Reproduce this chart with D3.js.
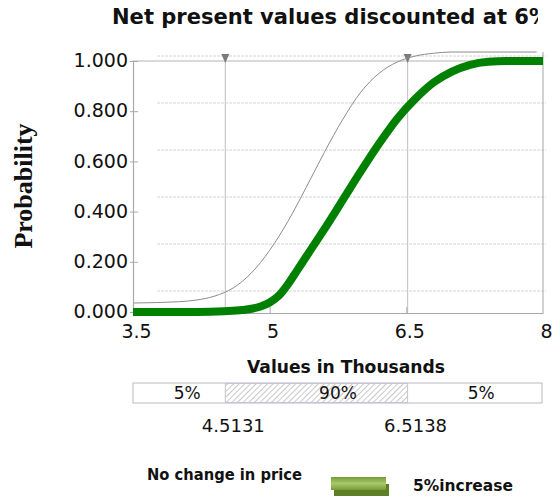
<!DOCTYPE html>
<html>
<head>
<meta charset="utf-8">
<script src="https://cdn.jsdelivr.net/npm/d3@7"></script>
<style>
  body { margin: 0; background: #fff; }
  svg { display: block; }
</style>
</head>
<body>
<div id="chart"></div>
<script>
// values
var xTicks = [3.5, 5, 6.5, 8];
var yTicks = [0, 0.2, 0.4, 0.6, 0.8, 1.0];
var seriesNames = ["No change in price", "5%increase"];

var noChangeX = [3.5, 4.0, 4.2, 4.4, 4.6, 4.8, 5.0, 5.2, 5.4, 5.6, 5.8, 6.0, 6.2, 6.4, 6.6, 6.8, 7.0, 7.93];
var noChangeP = [0.0, 0.005, 0.012, 0.028, 0.06, 0.12, 0.21, 0.325, 0.46, 0.6, 0.73, 0.84, 0.915, 0.96, 0.984, 0.995, 1.0, 1.0];

var increaseX = [3.5, 4.2, 4.5, 4.7, 4.9, 5.0, 5.1, 5.2, 5.3, 5.4, 5.6, 5.8, 6.0, 6.2, 6.4, 6.6, 6.8, 7.0, 7.2, 7.4, 7.6, 8.0];
var increaseP = [0.0, 0.0, 0.003, 0.008, 0.022, 0.038, 0.065, 0.11, 0.165, 0.22, 0.33, 0.445, 0.56, 0.67, 0.77, 0.85, 0.915, 0.958, 0.985, 0.997, 1.0, 1.0];

var bandCuts = [4.5131, 6.5138];
var bandLabels = ["5%", "90%", "5%"];

var W = 553, H = 496;

var svg = d3.select("#chart").append("svg")
    .attr("width", W)
    .attr("height", H);

svg.append("rect").attr("width", W).attr("height", H).attr("fill", "#fff");

var defs = svg.append("defs");

var x = d3.scaleLinear().domain([3.5, 8]).range([133, 543]);
var y = d3.scaleLinear().domain([0, 1]).range([312, 61]);
// back wall (depth) and the rear series are drawn a little higher
var yBack = d3.scaleLinear().domain([0, 1]).range([291, 56]);
var yThin = d3.scaleLinear().domain([0, 1]).range([303, 52]);

// title, clipped on the right like the original
defs.append("clipPath").attr("id", "titleClip")
    .append("rect").attr("x", 0).attr("y", 0).attr("width", 538).attr("height", 40);

svg.append("text")
    .attr("clip-path", "url(#titleClip)")
    .attr("x", 112)
    .attr("y", 24)
    .attr("textLength", 438)
    .attr("lengthAdjust", "spacingAndGlyphs")
    .style("font-family", "DejaVu Sans")
    .style("font-weight", "bold")
    .style("font-size", "22px")
    .attr("fill", "#111")
    .text("Net present values discounted at 6%");

// back wall grid lines
svg.append("g").selectAll("line")
    .data(yTicks)
    .enter().append("line")
    .attr("x1", 157).attr("x2", 546)
    .attr("y1", function(d) { return yBack(d); })
    .attr("y2", function(d) { return yBack(d); })
    .attr("stroke", "#d4d4d4")
    .attr("stroke-width", 1)
    .attr("stroke-dasharray", "3,1");

// plot frame
var frame = svg.append("g").attr("stroke", "#b4b4b4").attr("stroke-width", 1.2).attr("fill", "none");
frame.append("line").attr("x1", x(3.5)).attr("x2", x(8)).attr("y1", y(1)).attr("y2", y(1));
frame.append("line").attr("x1", x(8)).attr("x2", x(8)).attr("y1", 52).attr("y2", y(0) + 1);

// percentile markers
var markers = svg.append("g");
markers.selectAll("line")
    .data(bandCuts)
    .enter().append("line")
    .attr("x1", function(d) { return x(d); })
    .attr("x2", function(d) { return x(d); })
    .attr("y1", 55).attr("y2", y(0) + 1)
    .attr("stroke", "#c8c8c8")
    .attr("stroke-width", 1.2);
markers.selectAll("path")
    .data(bandCuts)
    .enter().append("path")
    .attr("d", function(d) {
        var cx = x(d);
        return "M" + (cx - 4) + ",54L" + (cx + 4) + ",54L" + cx + ",63Z";
    })
    .attr("fill", "#7a7a7a");

// rear series: thin line
var thinLine = d3.line()
    .x(function(d) { return x(d[0]); })
    .y(function(d) { return yThin(d[1]); })
    .curve(d3.curveMonotoneX);

svg.append("path")
    .datum(d3.zip(noChangeX, noChangeP))
    .attr("d", thinLine)
    .attr("fill", "none")
    .attr("stroke", "#8c8c8c")
    .attr("stroke-width", 1);

// y axis
var yAxis = d3.axisLeft(y)
    .tickValues(yTicks)
    .tickFormat(d3.format(".3f"))
    .tickSize(0)
    .tickPadding(5);

var gy = svg.append("g")
    .attr("transform", "translate(" + x(3.5) + ",0)")
    .call(yAxis);
gy.select(".domain").attr("stroke", "#a8a8a8").attr("stroke-width", 1.2);
gy.selectAll(".tick text")
    .attr("dy", "0.3em")
    .attr("fill", "#111")
    .style("font-family", "DejaVu Sans")
    .style("font-size", "19px");
gy.selectAll(".tick").append("line")
    .attr("x1", -3).attr("x2", 5)
    .attr("stroke", "#a8a8a8");

// x axis
var xAxis = d3.axisBottom(x)
    .tickValues(xTicks)
    .tickFormat(d3.format("~g"))
    .tickSize(0)
    .tickPadding(8);

var gx = svg.append("g")
    .attr("transform", "translate(0," + (y(0) + 1) + ")")
    .call(xAxis);
gx.select(".domain").attr("stroke", "#a8a8a8").attr("stroke-width", 1.2);
gx.selectAll(".tick text")
    .attr("dx", "3")
    .attr("dy", "0.9em")
    .attr("fill", "#111")
    .style("font-family", "DejaVu Sans")
    .style("font-size", "19px");
gx.selectAll(".tick")
    .filter(function(d) { return d > 3.5 && d < 8; })
    .append("line")
    .attr("y1", 0).attr("y2", -6)
    .attr("stroke", "#a8a8a8");

// front series: thick green
var thickLine = d3.line()
    .x(function(d) { return x(d[0]); })
    .y(function(d) { return y(d[1]); })
    .curve(d3.curveMonotoneX);

svg.append("path")
    .datum(d3.zip(increaseX, increaseP))
    .attr("d", thickLine)
    .attr("fill", "none")
    .attr("stroke", "#008000")
    .attr("stroke-width", 8);

// y title
svg.append("text")
    .attr("transform", "translate(32,186) rotate(-90)")
    .attr("text-anchor", "middle")
    .style("font-family", "Liberation Serif")
    .style("font-weight", "bold")
    .style("font-size", "26px")
    .attr("fill", "#111")
    .text("Probability");

// x title
svg.append("text")
    .attr("x", 247)
    .attr("y", 373)
    .attr("textLength", 198)
    .attr("lengthAdjust", "spacingAndGlyphs")
    .style("font-family", "DejaVu Sans")
    .style("font-weight", "bold")
    .style("font-size", "17px")
    .attr("fill", "#111")
    .text("Values in Thousands");

// percentile band
var pat = defs.append("pattern")
    .attr("id", "hatch")
    .attr("patternUnits", "userSpaceOnUse")
    .attr("width", 4).attr("height", 4)
    .attr("patternTransform", "rotate(45)");
pat.append("rect").attr("width", 4).attr("height", 4).attr("fill", "#fff");
pat.append("line").attr("x1", 0).attr("y1", 0).attr("x2", 0).attr("y2", 4)
    .attr("stroke", "#9a9a9a").attr("stroke-width", 1.1);

var bandTop = 383, bandH = 20;
var band = svg.append("g");
band.append("rect")
    .attr("x", x(3.5)).attr("y", bandTop)
    .attr("width", x(8) - x(3.5) - 1).attr("height", bandH)
    .attr("fill", "#fff")
    .attr("stroke", "#b8b8c4");
band.append("rect")
    .attr("x", x(bandCuts[0])).attr("y", bandTop + 0.5)
    .attr("width", x(bandCuts[1]) - x(bandCuts[0])).attr("height", bandH - 1)
    .attr("fill", "url(#hatch)")
    .attr("stroke", "#c4c4d4");

var labelX = [
    (x(3.5) + x(bandCuts[0])) / 2 + 8,
    (x(3.5) + x(8)) / 2,
    (x(bandCuts[1]) + x(8)) / 2 + 6
];
band.selectAll("text.pct")
    .data(bandLabels)
    .enter().append("text")
    .attr("class", "pct")
    .attr("x", function(d, i) { return labelX[i]; })
    .attr("y", bandTop + 16)
    .attr("text-anchor", "middle")
    .style("font-family", "DejaVu Sans")
    .style("font-size", "17px")
    .attr("fill", "#111")
    .text(function(d) { return d; });

band.selectAll("text.cut")
    .data(bandCuts)
    .enter().append("text")
    .attr("class", "cut")
    .attr("x", function(d) { return x(d) + 8; })
    .attr("y", 432)
    .attr("text-anchor", "middle")
    .style("font-family", "DejaVu Sans")
    .style("font-size", "18px")
    .attr("fill", "#111")
    .text(function(d) { return d3.format(".4f")(d); });

// legend
var grad = defs.append("linearGradient")
    .attr("id", "legGreen")
    .attr("x1", 0).attr("y1", 0).attr("x2", 0).attr("y2", 1);
grad.append("stop").attr("offset", "0%").attr("stop-color", "#769c34");
grad.append("stop").attr("offset", "50%").attr("stop-color", "#a9c86c");
grad.append("stop").attr("offset", "100%").attr("stop-color", "#769c34");

var legend = svg.append("g");
legend.append("text")
    .attr("x", 147).attr("y", 480)
    .attr("textLength", 155)
    .attr("lengthAdjust", "spacingAndGlyphs")
    .style("font-family", "DejaVu Sans")
    .style("font-weight", "bold")
    .style("font-size", "16px")
    .attr("fill", "#111")
    .text(seriesNames[0]);

legend.append("rect")
    .attr("x", 334).attr("y", 484)
    .attr("width", 55).attr("height", 14)
    .attr("fill", "#5f7f27");
legend.append("rect")
    .attr("x", 331).attr("y", 477)
    .attr("width", 55).attr("height", 13)
    .attr("fill", "url(#legGreen)");

legend.append("text")
    .attr("x", 413).attr("y", 491)
    .attr("textLength", 100)
    .attr("lengthAdjust", "spacingAndGlyphs")
    .style("font-family", "DejaVu Sans")
    .style("font-weight", "bold")
    .style("font-size", "16px")
    .attr("fill", "#111")
    .text(seriesNames[1]);
</script>
</body>
</html>
